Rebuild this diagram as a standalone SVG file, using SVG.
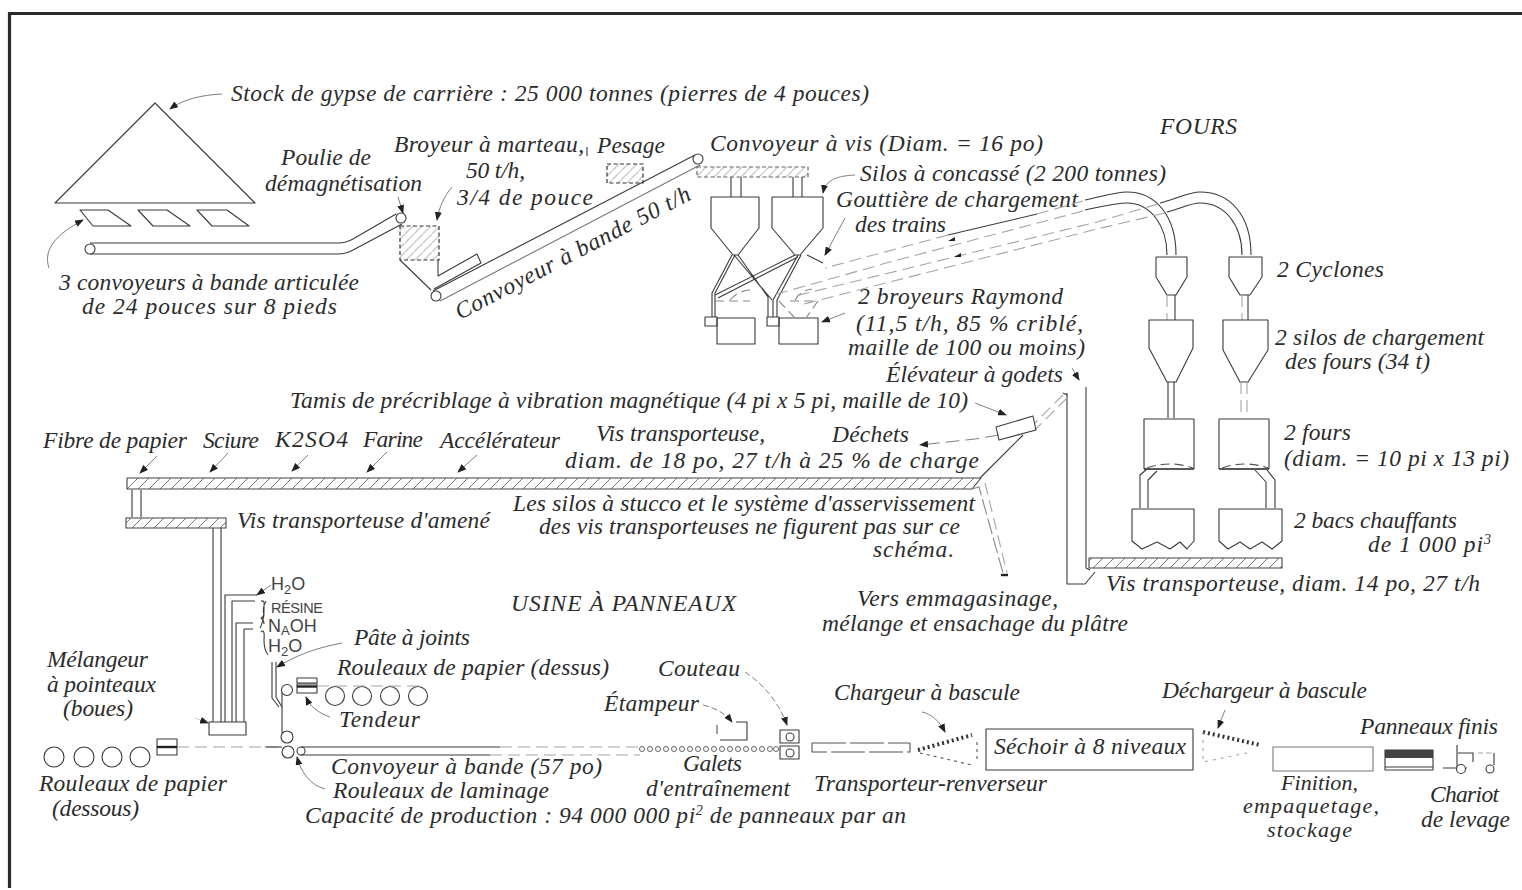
<svg xmlns="http://www.w3.org/2000/svg" width="1522" height="890" viewBox="0 0 1522 890">
<style>
text{font-family:"Liberation Serif",serif;font-style:italic;font-size:23.5px;fill:#2b2b2b}
.up{font-family:"Liberation Sans",sans-serif;font-style:normal;font-size:18px;fill:#444}
.s,.a,.d,.f,.h{fill:none;stroke:#3a3a3a;stroke-width:1.1;stroke-linejoin:round}
.f{fill:#fff}
.d{stroke:#555;stroke-dasharray:9 5}
.g{fill:none;stroke:#a6a6a6;stroke-width:1.1;stroke-dasharray:12 6}
.a{stroke:#808080;stroke-width:1;marker-end:url(#ah)}
.h{fill:url(#hatch);stroke:#444;stroke-width:1.1}
.h2{fill:url(#hatchg);stroke:#333;stroke-width:1.2;stroke-dasharray:4 2.5}
.t{fill:none;stroke:#222;stroke-width:2.4}
</style>
<defs>
<marker id="ah" markerWidth="9" markerHeight="7" refX="8" refY="3.5" orient="auto" markerUnits="userSpaceOnUse"><path d="M0,0L9,3.5L0,7z" fill="#222"/></marker>
<pattern id="hatch" width="11" height="11" patternUnits="userSpaceOnUse"><path d="M12,-1L-1,12" stroke="#666" stroke-width=".9"/></pattern>
<pattern id="hatchg" width="9" height="9" patternUnits="userSpaceOnUse"><path d="M10,-1L-1,10" stroke="#c8c8c8" stroke-width="1.3"/></pattern>
</defs>
<rect width="1522" height="890" fill="#fff"/>
<path d="M1522,13.5H9.5V888" fill="none" stroke="#2a2a2a" stroke-width="3.2"/>

<g id="connectors">
<path class="a" d="M222,94C200,95 182,100 170,109"/>
<path class="a" d="M49,268C43,250 55,235 83,220"/>
<path class="a" d="M398,197L403,213"/>
<path class="a" d="M452,187C444,196 439,208 437,220"/>
<path class="a" d="M855,175C840,176 826,178 823,193"/>
<path class="a" d="M845,218L825,255"/>
<path class="a" d="M845,313L822,322"/>
<path class="a" d="M1072,368L1079,380"/>
<path class="a" d="M975,403L1006,415"/>
<path class="a" d="M157,456L140,473"/>
<path class="a" d="M228,453L210,472"/>
<path class="a" d="M308,455L292,471"/>
<path class="a" d="M387,452L367,472"/>
<path class="a" d="M477,455L458,472"/>
<path class="a" style="stroke-dasharray:14 6" d="M999,435L975,439L920,445"/>
<path class="a" d="M342,643C315,648 295,656 277,667"/>
<path class="a" d="M330,717C318,713 310,706 306,697"/>
<path class="a" d="M325,789C310,785 301,772 297,757"/>
<path class="a" style="stroke-dasharray:6 3" d="M703,705C715,708 725,713 732,722"/>
<path class="a" style="stroke-dasharray:6 3" d="M745,672C765,685 780,705 787,725"/>
<path class="a" d="M922,712C932,714 940,722 945,732"/>
<path class="a" d="M1225,710L1218,728"/>
<path class="a" d="M271,585L257,595"/>
<path class="a" style="stroke:#ccc" d="M195,718L208,723"/>
<path class="s" d="M587,147V156"/>
</g>

<g id="stock-gypse">
<path class="s" d="M55,203L155,103L255,203Z"/>
<text x="231" y="101" textLength="638">Stock de gypse de carrière : 25 000 tonnes (pierres de 4 pouces)</text>
</g>
<g id="convoyeurs-articules">
<path class="s" d="M80,210H108L131,226H93Z M138,210H167L190,226H153Z M197,210H227L249,226H212Z"/>
<path class="s" d="M90,243H338Q346,243 353,239L396,214M90,254H338Q346,254 353,250L402,224"/>
<circle class="f" cx="90" cy="249" r="5"/>
<text x="59" y="290" textLength="300">3 convoyeurs à bande articulée</text>
<text x="82" y="314" textLength="255">de 24 pouces sur 8 pieds</text>
</g>
<g id="poulie">
<circle class="f" cx="401" cy="218" r="5"/>
<text x="281" y="165" textLength="90">Poulie de</text>
<text x="265" y="191" textLength="157">démagnétisation</text>
</g>
<g id="broyeur-marteau">
<rect class="h2" x="400" y="226" width="39" height="34"/>
<path class="s" d="M400,260L431,290M438,260V276L477,254L481,263L434,289"/>
<text x="394" y="152" textLength="190">Broyeur à marteau,</text>
<text x="466" y="178" textLength="59">50 t/h,</text>
<text x="457" y="205" textLength="136">3/4 de pouce</text>
</g>
<g id="pesage">
<rect class="h2" x="607" y="164" width="36" height="19"/>
<text x="597" y="153" textLength="68">Pesage</text>
</g>
<g id="convoyeur-bande">
<path class="s" d="M433,291L695,155"/>
<path class="s" style="stroke:#777" d="M440,301L700,165"/>
<circle class="f" cx="436" cy="296" r="5"/>
<circle class="f" cx="698" cy="159" r="5"/>
<text transform="translate(460,320) rotate(-27.5)" textLength="262">Convoyeur à bande 50 t/h</text>
</g>
<g id="convoyeur-vis">
<rect class="h2" style="stroke:#666" x="697" y="167" width="111" height="10"/>
<path class="s" d="M731,177V197M741,177V197M793,177V197M802,177V197"/>
<text x="710" y="151" textLength="333">Convoyeur à vis (Diam. = 16 po)</text>
</g>
<g id="silos-concasse">
<path class="s" d="M711,197H759V228L738,255H733L711,228Z"/>
<path class="s" d="M772,197H823V228L800,255H795L772,228Z"/>
<path class="s" d="M807,255L823,263"/>
<path class="s" d="M732,255L712,293V317M735,255L715,293V317M738,255L768,297V317M734,255L772,300"/>
<path class="s" d="M795,255L715,295M798,257L718,298M798,255L773,300V317M801,255L777,300V317"/>
<text x="860" y="181" textLength="306">Silos à concassé (2 200 tonnes)</text>
<text x="836" y="207" textLength="242">Gouttière de chargement</text>
<text x="855" y="232" textLength="91">des trains</text>
</g>
<g id="broyeurs-raymond">
<rect class="s" x="717" y="318" width="38" height="26"/>
<rect class="s" x="705" y="317" width="12" height="9"/>
<rect class="s" x="779" y="318" width="39" height="26"/>
<rect class="s" x="767" y="317" width="12" height="9"/>
<path class="d" style="stroke:#888" d="M715,301H750M790,301H818M779,301L795,318M818,301L806,318M730,300C737,292 745,290 752,290M795,300C800,292 805,290 812,289"/>
<text x="858" y="304" textLength="205">2 broyeurs Raymond</text>
<text x="856" y="331" textLength="227">(11,5 t/h, 85 % criblé,</text>
<text x="848" y="355" textLength="237">maille de 100 ou moins)</text>
</g>
<g id="conduites-cyclones">
<path class="s" d="M1085,200C1100,197 1115,192 1127,192C1155,192 1176,215 1176,255"/>
<path class="s" d="M1085,210C1100,207 1115,203 1127,203C1150,203 1167,225 1167,255"/>
<path class="s" d="M1160,203C1175,199 1190,192 1200,192C1230,192 1251,215 1251,255"/>
<path class="s" d="M1167,212C1180,209 1190,203 1200,203C1225,203 1242,225 1242,255"/>
<path class="s" d="M1037,214L948,235"/>
<path class="g" d="M1083,201L1037,214M948,235L825,268M1083,211L890,262L770,296M1158,204L1097,222L795,296M1165,213L1097,229L800,305"/>
<path fill="#222" d="M948,241l7,-4l0,4zM954,257l7,-4l0,4z"/>
</g>
<g id="cyclones">
<path class="s" d="M1156,257H1187V277L1176,295H1167L1156,277Z"/>
<path class="s" d="M1229,257H1262V277L1250,295H1240L1229,277Z"/>
<path class="s" d="M1175,295V320M1248,295V320"/>
<path class="g" d="M1167,295V320M1242,295V320"/>
<text x="1277" y="277" textLength="107">2 Cyclones</text>
</g>
<g id="silos-chargement">
<path class="s" d="M1149,320H1193V348L1176,382H1167L1149,348Z"/>
<path class="s" d="M1223,320H1268V350L1248,382H1240L1223,350Z"/>
<path class="s" d="M1168,382V418M1174,382V418"/>
<path class="g" d="M1241,382V418M1247,382V418"/>
<text x="1275" y="345" textLength="209">2 silos de chargement</text>
<text x="1285" y="369" textLength="145">des fours (34 t)</text>
</g>
<g id="fours">
<path class="s" d="M1144,469V419H1194V469M1219,469V419H1269V469"/>
<path class="t" style="stroke-width:1.6" d="M1144,469H1194M1219,469H1269"/>
<path class="d" d="M1147,468Q1170,460 1193,468M1222,468Q1245,460 1268,468"/>
<path class="s" d="M1140,508V475L1147,469M1148,508V480L1157,471M1275,508V480L1267,470M1266,508V482L1255,470"/>
<text x="1284" y="440" textLength="67">2 fours</text>
<text x="1284" y="466" textLength="225">(diam. = 10 pi x 13 pi)</text>
</g>
<g id="bacs-chauffants">
<path class="s" d="M1132,509H1194V541L1187,549L1180,542L1170,549L1157,542L1142,549L1132,541Z"/>
<path class="s" d="M1219,509H1282V541L1272,549L1262,542L1250,549L1240,542L1228,549L1219,541Z"/>
<text x="1294" y="528" textLength="163">2 bacs chauffants</text>
<text x="1368" y="552" textLength="123">de 1 000 pi<tspan font-size="14" dy="-8">3</tspan></text>
</g>
<g id="vis-transporteuse-14">
<rect class="h" x="1089" y="558" width="193" height="10"/>
<path class="s" d="M1086,387V568L1090,570M1067,393V584H1085L1095,572"/>
<text x="1106" y="591" textLength="374">Vis transporteuse, diam. 14 po, 27 t/h</text>
</g>
<g id="elevateur-tamis">
<path class="s" d="M1063,393L1067,395"/>
<path class="g" d="M1063,395L1035,423M1067,398L1035,430"/>
<path class="s" d="M996,427L1033,416L1036,430L999,440Z"/>
<path class="s" d="M980,478L1023,435"/>
<text x="886" y="382" textLength="177">Élévateur à godets</text>
<text x="290" y="408" textLength="678">Tamis de précriblage à vibration magnétique (4 pi x 5 pi, maille de 10)</text>
<text x="832" y="442" textLength="77">Déchets</text>
</g>
<g id="vis-transporteuse-18">
<path class="h" d="M127,478H981L972,489H127Z"/>
<path class="g" style="stroke-dasharray:16 4;stroke:#888" d="M972,489L979,487L1003,573"/>
<path class="g" d="M985,483L1007,573"/>
<path class="t" d="M1001,575H1008"/>
<path class="s" d="M132,490V517M141,490V517"/>
<text x="43" y="448" textLength="144">Fibre de papier</text>
<text x="203" y="448" textLength="56">Sciure</text>
<text x="275" y="447" textLength="73">K2SO4</text>
<text x="363" y="447" textLength="60">Farine</text>
<text x="440" y="448" textLength="120">Accélérateur</text>
<text x="596" y="441" textLength="169">Vis transporteuse,</text>
<text x="565" y="468" textLength="414">diam. de 18 po, 27 t/h à 25 % de charge</text>
<text x="513" y="511" textLength="462">Les silos à stucco et le système d'asservissement</text>
<text x="539" y="534" textLength="421">des vis transporteuses ne figurent pas sur ce</text>
<text x="873" y="557" textLength="81">schéma.</text>
<text x="857" y="606" textLength="201">Vers emmagasinage,</text>
<text x="822" y="631" textLength="306">mélange et ensachage du plâtre</text>
</g>
<g id="vis-amene">
<rect class="h" x="126" y="518" width="100" height="10"/>
<path class="s" d="M213,528V722M221,528V722"/>
<text x="237" y="528" textLength="253">Vis transporteuse d'amené</text>
</g>
<g id="melangeur">
<rect class="s" x="209" y="722" width="37" height="13"/>
<path class="s" d="M225,722V595H257M232,722V601H255M236,722V623H253M244,722V629H253"/>
<path class="s" stroke-width=".8" d="M261,601Q265,600 264,606V612Q264,617 261,618Q264,620 264,624M261,632Q265,628 264,640Q264,650 268,655M266,601Q262,608 264,615Q262,625 260,628"/>
<text class="up" x="271" y="590">H<tspan font-size="13" dy="4">2</tspan><tspan dy="-4">O</tspan></text>
<text class="up" x="271" y="613" style="font-size:14.5px" textLength="52">RÉSINE</text>
<text class="up" x="268" y="632">N<tspan font-size="13" dy="3">A</tspan><tspan dy="-3">OH</tspan></text>
<text class="up" x="268" y="652">H<tspan font-size="13" dy="4">2</tspan><tspan dy="-4">O</tspan></text>
<text x="47" y="667" textLength="101">Mélangeur</text>
<text x="47" y="692" textLength="109">à pointeaux</text>
<text x="63" y="716" textLength="70">(boues)</text>
<text x="511" y="611" textLength="225">USINE À PANNEAUX</text>
</g>
<g id="rouleaux-dessus">
<path class="s" d="M272,662V698L279,707M276,662V697L282,707"/>
<path class="s" d="M282,692V733"/>
<circle class="f" cx="287" cy="690" r="5.5"/>
<circle class="f" cx="287" cy="737" r="6"/>
<circle class="s" cx="335" cy="696" r="9.5"/><circle class="s" cx="362" cy="696" r="9.5"/><circle class="s" cx="390" cy="696" r="9.5"/><circle class="s" cx="418" cy="696" r="9.5"/>
<rect class="s" x="297" y="678" width="20" height="5"/><rect class="s" x="297" y="684" width="20" height="9"/>
<path class="t" d="M297,686.5H317"/>
<path class="g" d="M317,686H425"/>
<text x="354" y="645" textLength="116">Pâte à joints</text>
<text x="337" y="675" textLength="272">Rouleaux de papier (dessus)</text>
<text x="339" y="727" textLength="81">Tendeur</text>
</g>
<g id="rouleaux-dessous">
<circle class="s" cx="54" cy="757" r="10"/><circle class="s" cx="84" cy="757" r="10"/><circle class="s" cx="112" cy="757" r="10"/><circle class="s" cx="140" cy="757" r="10"/>
<rect class="s" x="157" y="739" width="20" height="16"/>
<path class="t" d="M157,747H177"/>
<path class="g" d="M177,747H280"/>
<text x="39" y="791" textLength="188">Rouleaux de papier</text>
<text x="52" y="816" textLength="87">(dessous)</text>
</g>
<g id="convoyeur-57">
<circle class="s" cx="288" cy="752" r="6"/>
<circle class="f" cx="301" cy="751" r="4"/>
<path class="s" d="M265,747H282M301,747H500M301,755H490"/>
<path class="g" d="M500,747H640M490,755H640"/>
<text x="331" y="774" textLength="271">Convoyeur à bande (57 po)</text>
<text x="333" y="798" textLength="216">Rouleaux de laminage</text>
<text x="305" y="823" textLength="601">Capacité de production : 94 000 000 pi<tspan font-size="14" dy="-8">2</tspan><tspan dy="8"> de panneaux par an</tspan></text>
</g>
<g id="galets" fill="none" stroke="#666" stroke-width="1">
<circle cx="642" cy="749" r="2.5"/><circle cx="650" cy="749" r="2.5"/><circle cx="658" cy="749" r="2.5"/><circle cx="666" cy="749" r="2.5"/><circle cx="674" cy="749" r="2.5"/><circle cx="682" cy="749" r="2.5"/><circle cx="690" cy="749" r="2.5"/><circle cx="698" cy="749" r="2.5"/><circle cx="706" cy="749" r="2.5"/><circle cx="714" cy="749" r="2.5"/><circle cx="722" cy="749" r="2.5"/><circle cx="730" cy="749" r="2.5"/><circle cx="738" cy="749" r="2.5"/><circle cx="746" cy="749" r="2.5"/><circle cx="754" cy="749" r="2.5"/><circle cx="762" cy="749" r="2.5"/><circle cx="770" cy="749" r="2.5"/><circle cx="776" cy="749" r="2.5"/>
<text x="683" y="771" textLength="59" stroke="none">Galets</text>
<text x="646" y="796" textLength="144" stroke="none">d'entraînement</text>
</g>
<g id="etampeur">
<path class="s" d="M736,722H747V740H720"/>
<path class="d" d="M717,725V738"/>
<text x="604" y="711" textLength="95">Étampeur</text>
</g>
<g id="couteau">
<rect class="s" x="780" y="730" width="19" height="13"/><circle class="s" cx="790" cy="737" r="4"/>
<rect class="s" x="780" y="746" width="19" height="13"/><circle class="s" cx="790" cy="753" r="4"/>
<text x="658" y="676" textLength="82">Couteau</text>
</g>
<g id="transporteur-renverseur">
<path class="d" style="stroke-dasharray:34 4" d="M812,743H910V752H812Z"/>
<text x="814" y="791" textLength="233">Transporteur-renverseur</text>
</g>
<g id="chargeur">
<path d="M918,750L972,735" fill="none" stroke="#333" stroke-width="4" stroke-dasharray="2 3"/>
<path class="d" style="stroke-dasharray:3 4" d="M920,753L972,765M977,742V760"/>
<text x="834" y="700" textLength="186">Chargeur à bascule</text>
</g>
<g id="sechoir">
<rect class="s" x="986" y="729" width="207" height="41"/>
<text x="994" y="754" textLength="192">Séchoir à 8 niveaux</text>
</g>
<g id="dechargeur">
<path d="M1203,732L1260,745" fill="none" stroke="#333" stroke-width="4" stroke-dasharray="2 3"/>
<path class="g" style="stroke-dasharray:3 5" d="M1203,732V762L1247,753"/>
<text x="1162" y="698" textLength="205">Déchargeur à bascule</text>
</g>
<g id="finition">
<path class="s" style="stroke:#777" d="M1273,747H1373V771H1273Z"/>
<text x="1281" y="790" textLength="77" style="font-size:22px">Finition,</text>
<text x="1243" y="813" textLength="136" style="font-size:22px">empaquetage,</text>
<text x="1267" y="837" textLength="85" style="font-size:22px">stockage</text>
</g>
<g id="panneaux-finis">
<rect x="1385" y="750" width="48" height="8" fill="#444"/>
<rect class="s" x="1385" y="750" width="48" height="20"/>
<path class="s" d="M1385,767H1433"/>
<text x="1360" y="734" textLength="138">Panneaux finis</text>
</g>
<g id="chariot">
<path class="s" d="M1457,745V768M1443,768H1467M1458,753H1473V762"/>
<path class="g" style="stroke-dasharray:5 3" d="M1478,753H1494"/>
<path class="s" d="M1494,753V765"/>
<circle class="f" cx="1461" cy="769" r="4.5"/>
<circle class="f" cx="1490" cy="769" r="4"/>
<text x="1430" y="802" textLength="69">Chariot</text>
<text x="1421" y="827" textLength="89">de levage</text>
</g>
<g id="fours-titre"><text x="1160" y="134" textLength="77">FOURS</text></g>
</svg>
